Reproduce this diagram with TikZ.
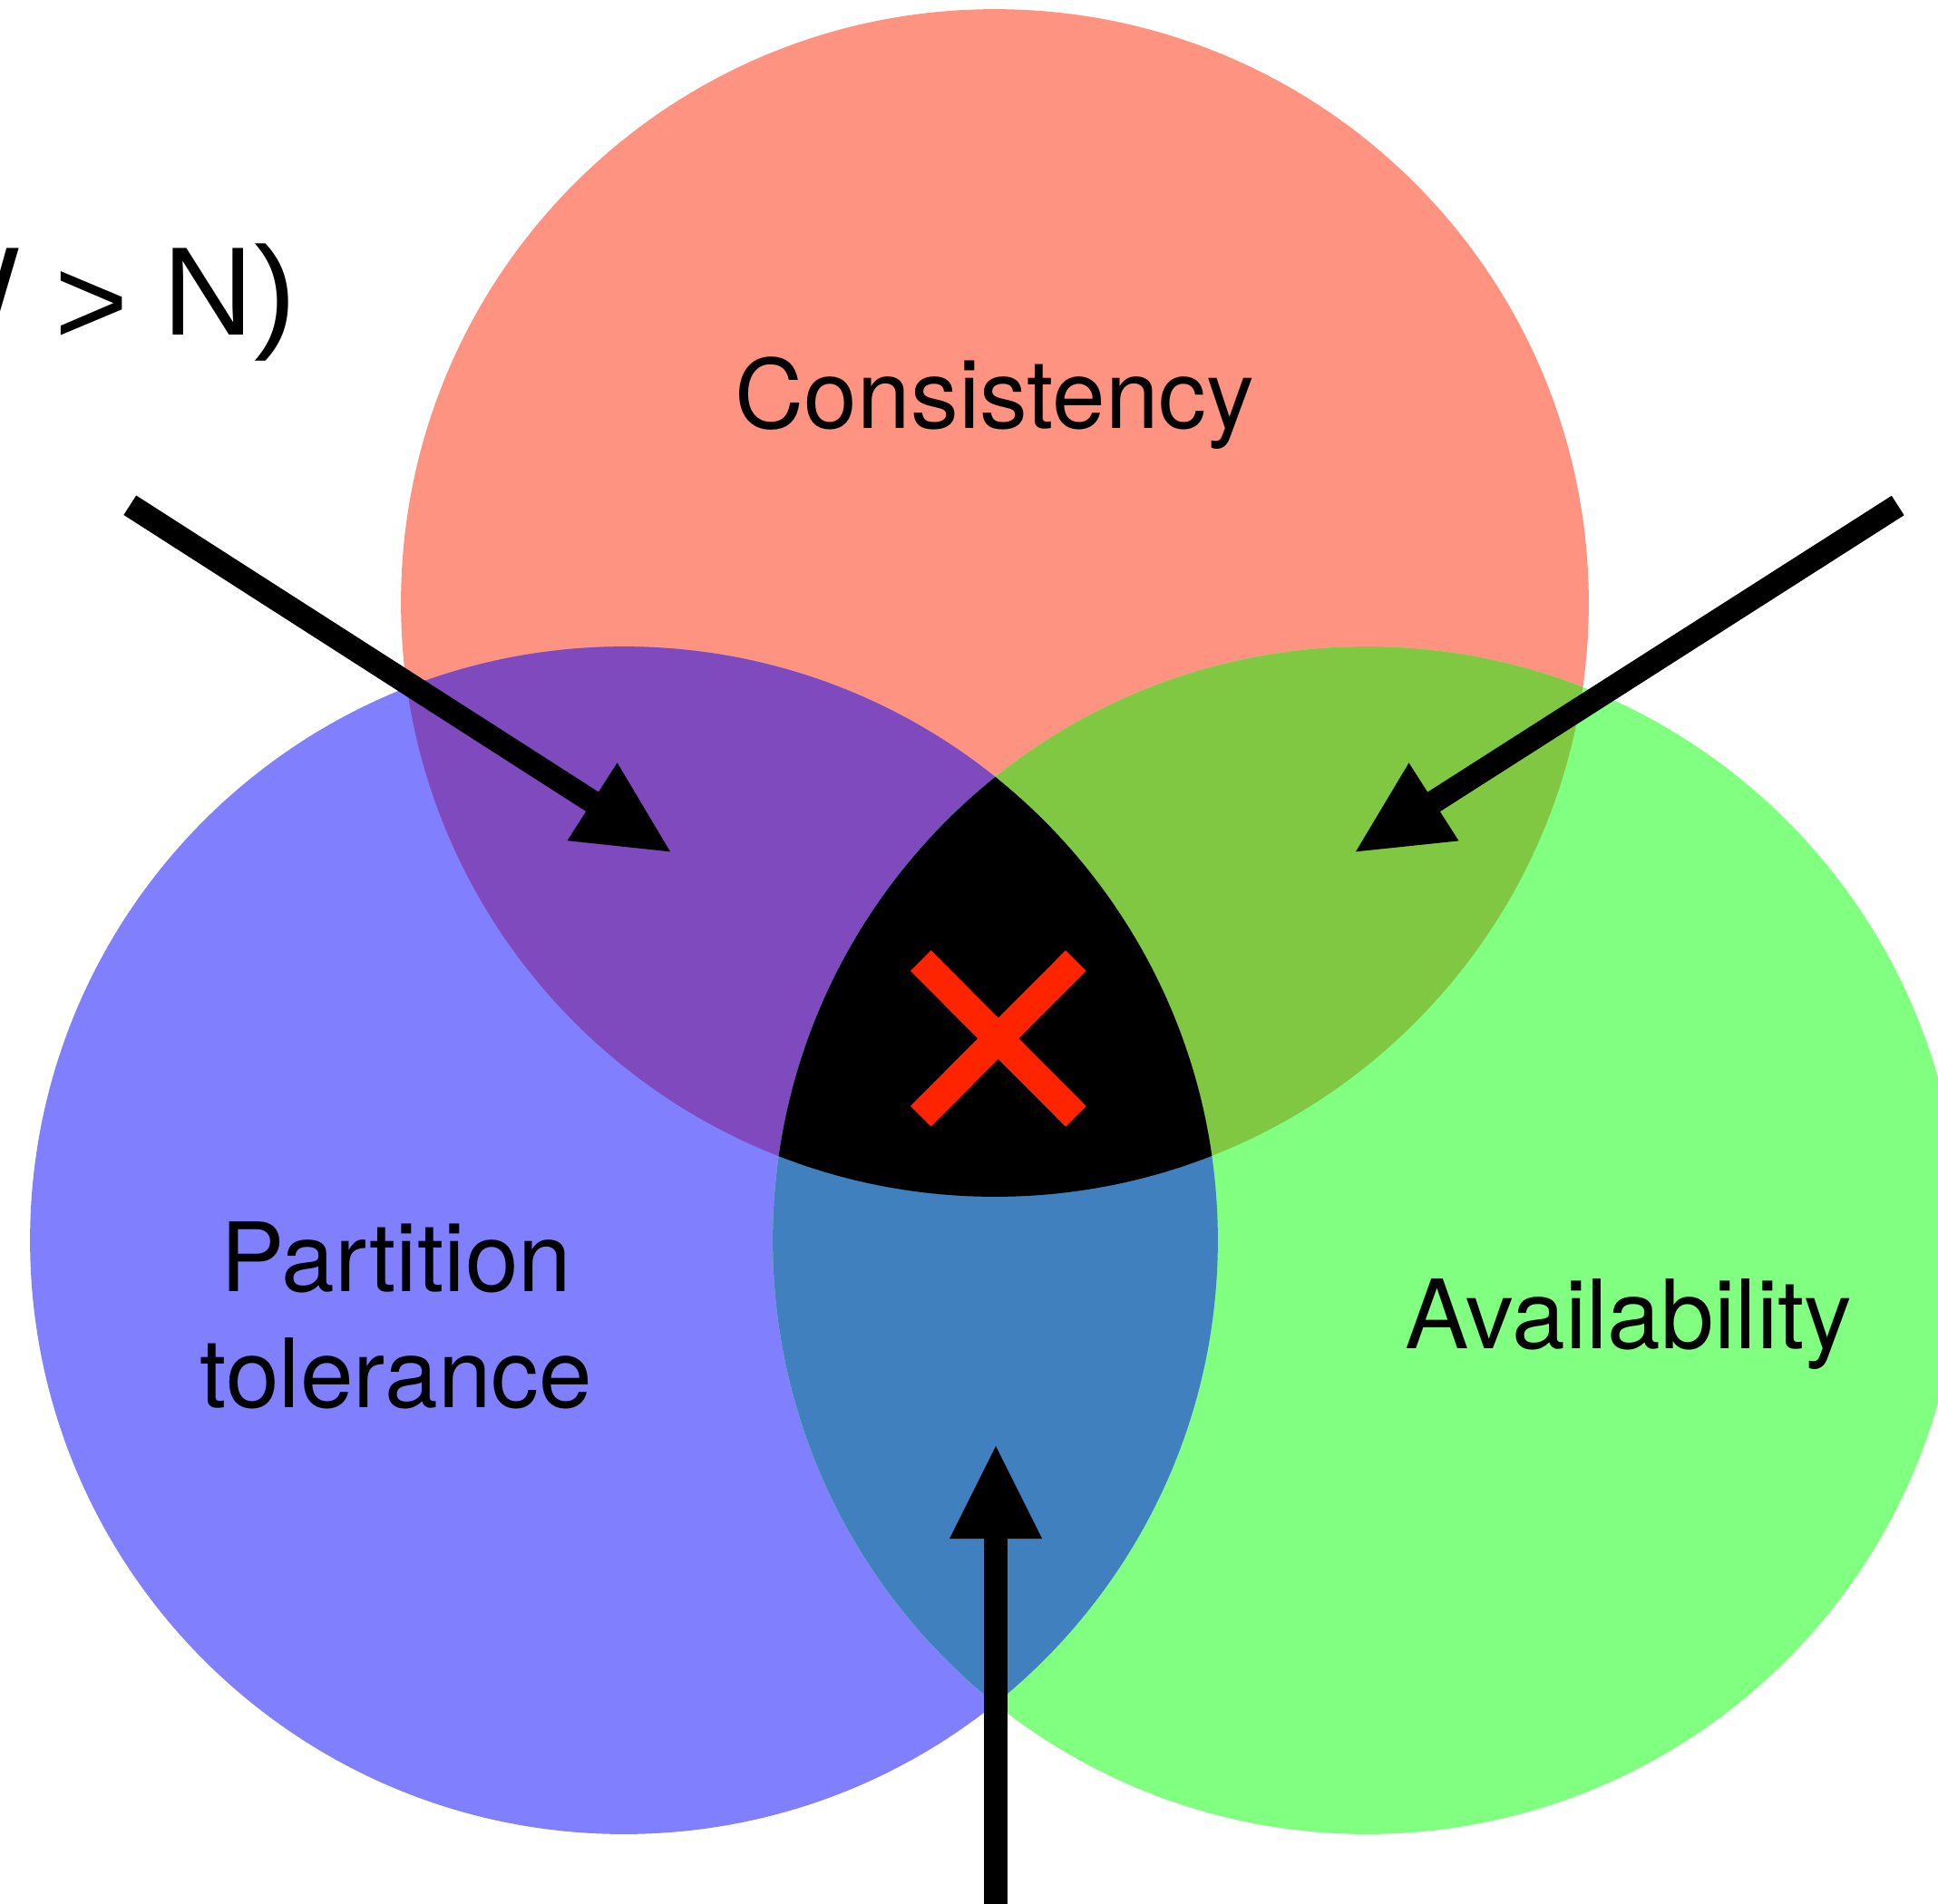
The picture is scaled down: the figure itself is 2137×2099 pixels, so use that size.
\documentclass[tikz,border=0pt]{standalone}
\usepackage{fontspec}
\setmainfont{TeX Gyre Heros}
\newfontfamily\quorumfont{Liberation Sans}
\usetikzlibrary{calc}

\definecolor{setC}{HTML}{FF9382}
\definecolor{setP}{HTML}{8080FF}
\definecolor{setA}{HTML}{80FF80}
\definecolor{setCP}{HTML}{804ABF}
\definecolor{setCA}{HTML}{80C842}
\definecolor{setPA}{HTML}{4080BE}
\definecolor{crossred}{HTML}{FF2400}

\newcommand\vennradius{6.545cm}

\begin{document}
\begin{tikzpicture}[x=0.01cm,y=-0.01cm,
  labeltext/.style={font=\fontsize{30}{36.4}\selectfont, inner sep=0pt},
  quorumtext/.style={font=\quorumfont\fontsize{39.5}{47}\selectfont, inner sep=0pt},
  shaft/.style={line width=0.255cm, line cap=butt},
  headfill/.style={fill=black},
  crossbar/.style={draw=crossred, line width=0.32cm, line cap=butt}]

\useasboundingbox (0,0) rectangle (2137,2099);
\clip (0,0) rectangle (2137,2099);
\fill[white] (0,0) rectangle (2137,2099);

% circle centres
\coordinate (C) at (1097,665);
\coordinate (P) at (688,1368);
\coordinate (A) at (1507,1368);

% single sets
\fill[setC] (C) circle[radius=\vennradius];
\fill[setP] (P) circle[radius=\vennradius];
\fill[setA] (A) circle[radius=\vennradius];

% pairwise overlaps
\begin{scope}
  \clip (C) circle[radius=\vennradius];
  \fill[setCP] (P) circle[radius=\vennradius];
  \fill[setCA] (A) circle[radius=\vennradius];
\end{scope}
\begin{scope}
  \clip (P) circle[radius=\vennradius];
  \fill[setPA] (A) circle[radius=\vennradius];
\end{scope}

% triple overlap
\begin{scope}
  \clip (C) circle[radius=\vennradius];
  \clip (P) circle[radius=\vennradius];
  \fill[black] (A) circle[radius=\vennradius];
\end{scope}

% impossible corner
\coordinate (x1) at (1015.3,1059.5);
\coordinate (x2) at (1186.3,1231.2);
\coordinate (x3) at (1186.3,1059.5);
\coordinate (x4) at (1015.3,1231.2);
\draw[crossbar] (x1) -- (x2);
\draw[crossbar] (x3) -- (x4);

% arrows: shaft plus triangular head
\coordinate (lS) at (143.3,557.2);
\coordinate (lT) at (739,939.3);
\coordinate (lB) at ($(lT)!1.02cm!(lS)$);
\draw[shaft] (lS) -- ($(lT)!0.95cm!(lS)$);
\fill[headfill] (lT) -- ($(lB)!0.51cm!90:(lT)$) -- ($(lB)!0.51cm!-90:(lT)$) -- cycle;

\coordinate (rS) at (2092.7,557.5);
\coordinate (rT) at (1495,939.3);
\coordinate (rB) at ($(rT)!1.02cm!(rS)$);
\draw[shaft] (rS) -- ($(rT)!0.95cm!(rS)$);
\fill[headfill] (rT) -- ($(rB)!0.51cm!90:(rT)$) -- ($(rB)!0.51cm!-90:(rT)$) -- cycle;

\coordinate (bS) at (1098,2130);
\coordinate (bT) at (1098,1595);
\coordinate (bB) at ($(bT)!1.02cm!(bS)$);
\draw[shaft] (bS) -- ($(bT)!0.95cm!(bS)$);
\fill[headfill] (bT) -- ($(bB)!0.51cm!90:(bT)$) -- ($(bB)!0.51cm!-90:(bT)$) -- cycle;

% labels (a multi-line node sits on the baseline of its last line)
\node[labeltext, anchor=base] (consistency) at (1097,472) {Consistency};
\node[labeltext, anchor=base, align=center] (partition) at (437,1552) {Partition\\tolerance};
\node[labeltext, anchor=base] (availability) at (1796,1487) {Availability};
\node[quorumtext, anchor=base east] (quorum) at (327,369) {W \raisebox{-0.08em}{>} N)};

\end{tikzpicture}
\end{document}
